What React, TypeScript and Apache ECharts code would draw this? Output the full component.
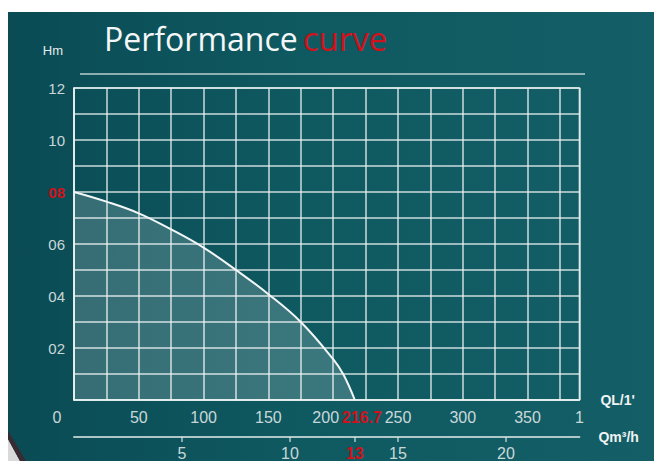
import React, { useEffect, useRef } from "react";
import * as echarts from "echarts";

// Flow in L/min (QL) vs head in m (Hm)
const flowLmin = [0, 25, 50, 75, 100, 125, 150, 175, 200, 208, 216.7];
const headM = [8, 7.63, 7.18, 6.56, 5.86, 5.0, 4.07, 3.0, 1.57, 0.97, 0];

const qlLabels = [0, 50, 100, 150, 200, 216.7, 250, 300, 350, 390];
const qmLabels = [5, 10, 13, 15, 20];
const hmLabels = [2, 4, 6, 8, 10, 12];

const QL_MAX = 390;
const QM_MAX = (QL_MAX * 60) / 1000;

const LABEL = "rgba(225,232,232,0.9)";
const GRID = "rgba(235,242,242,0.85)";
const RED = "#d0121c";

export default function App() {
  const ref = useRef<HTMLDivElement>(null);
  useEffect(() => {
    if (!ref.current) return;
    const chart = echarts.init(ref.current, null, { renderer: "svg" });
    const points = flowLmin.map((x, i) => [x, headM[i]]);
    chart.setOption({
      animation: false,
      backgroundColor: {
        type: "linear",
        x: 0,
        y: 0,
        x2: 1,
        y2: 0,
        colorStops: [
          { offset: 0, color: "#0a4b54" },
          { offset: 0.45, color: "#0f5961" },
          { offset: 1, color: "#145f67" },
        ],
      },
      title: {
        left: 91,
        top: 5,
        text: "{a|Performance} {b|curve}",
        textStyle: {
          fontWeight: "normal",
          rich: {
            a: { color: "#f4f7f7", fontSize: 32, fontWeight: "normal", fontFamily: "Open Sans" },
            b: { color: RED, fontSize: 33, fontWeight: "normal", fontFamily: "Open Sans" },
          },
        },
      },
      grid: {
        left: 66,
        top: 76,
        width: 505.4,
        height: 312,
        show: true,
        borderColor: GRID,
        borderWidth: 1.5,
        backgroundColor: "transparent",
      },
      xAxis: [
        {
          type: "value",
          min: 0,
          max: QL_MAX,
          interval: 25,
          position: "bottom",
          name: "QL/1'",
          nameLocation: "end",
          nameGap: 21,
          nameTextStyle: {
            color: "#eef3f3",
            fontSize: 14,
            fontWeight: "bold",
            fontFamily: "Liberation Sans",
            padding: [34, 0, 0, 0],
          },
          axisLine: { show: true, lineStyle: { color: GRID, width: 1.5 } },
          axisTick: { show: false },
          splitLine: { show: true, lineStyle: { color: GRID, width: 1.5 } },
          axisLabel: {
            customValues: qlLabels,
            margin: 9,
            color: LABEL,
            fontSize: 16,
            fontFamily: "Liberation Sans",
            formatter: (v: number) => {
              if (v === 0) return "{z|0}";
              if (Math.abs(v - 216.7) < 0.01) return "{r|216.7}";
              if (v === 200) return "{l|200}";
              if (v === QL_MAX) return "1";
              return String(v);
            },
            rich: {
              z: { color: LABEL, fontSize: 16, fontFamily: "Liberation Sans", padding: [0, 34, 0, 0] },
              l: { color: LABEL, fontSize: 16, fontFamily: "Liberation Sans", padding: [0, 15, 0, 0] },
              r: {
                color: RED,
                fontSize: 16,
                fontWeight: "bold",
                fontFamily: "Liberation Sans",
                padding: [0, 0, 0, 14],
              },
            },
          },
        },
        {
          type: "value",
          min: 0,
          max: QM_MAX,
          position: "bottom",
          offset: 37,
          name: "Qm³/h",
          nameLocation: "end",
          nameGap: 19,
          nameTextStyle: {
            color: "#eef3f3",
            fontSize: 14,
            fontWeight: "bold",
            fontFamily: "Liberation Sans",
            padding: [32, 0, 0, 0],
          },
          axisLine: { show: true, lineStyle: { color: "rgba(215,228,228,0.8)", width: 2 } },
          axisTick: {
            show: true,
            customValues: qmLabels,
            length: 5,
            lineStyle: { color: "rgba(215,228,228,0.8)", width: 1.5 },
          },
          splitLine: { show: false },
          axisLabel: {
            customValues: qmLabels,
            margin: 8,
            color: LABEL,
            fontSize: 16,
            fontFamily: "Liberation Sans",
            formatter: (v: number) => (v === 13 ? "{r|13}" : String(v)),
            rich: {
              r: { color: RED, fontSize: 16, fontWeight: "bold", fontFamily: "Liberation Sans" },
            },
          },
        },
      ],
      yAxis: {
        type: "value",
        min: 0,
        max: 12,
        interval: 1,
        name: "Hm",
        nameLocation: "end",
        nameGap: 31,
        nameTextStyle: {
          color: "#e4ebeb",
          fontSize: 13,
          fontFamily: "Liberation Sans",
          align: "right",
          padding: [0, 11, 0, 0],
        },
        axisLine: { show: true, lineStyle: { color: GRID, width: 1.5 } },
        axisTick: { show: false },
        splitLine: { show: true, lineStyle: { color: GRID, width: 1.5 } },
        axisLabel: {
          customValues: hmLabels,
          margin: 9,
          color: LABEL,
          fontSize: 15,
          fontFamily: "Liberation Sans",
          formatter: (v: number) => {
            const s = v < 10 ? "0" + v : String(v);
            return v === 8 ? "{r|" + s + "}" : s;
          },
          rich: {
            r: { color: RED, fontSize: 15, fontWeight: "bold", fontFamily: "Liberation Sans" },
          },
        },
      },
      graphic: [
        {
          type: "line",
          shape: { x1: 72, y1: 62, x2: 577, y2: 62 },
          style: { stroke: "rgba(230,238,238,0.8)", lineWidth: 1.5 },
        },
        {
          type: "polygon",
          shape: { points: [[0, 427], [12, 449], [0, 449]] },
          style: { fill: "#d9d9d9" },
        },
        {
          type: "polygon",
          shape: { points: [[0, 419], [18, 449], [12, 449], [0, 427]] },
          style: { fill: "#3a2a32" },
        },
      ],
      series: [
        {
          type: "line",
          xAxisIndex: 0,
          data: points,
          smooth: 0.4,
          symbol: "none",
          lineStyle: { color: "#f2f6f6", width: 2 },
          areaStyle: { color: "rgba(255,255,255,0.26)" },
        },
      ],
    });
    return () => chart.dispose();
  }, []);
  return (
    <div
      ref={ref}
      style={{ position: "absolute", left: 8, top: 12, width: 646, height: 449 }}
    />
  );
}
